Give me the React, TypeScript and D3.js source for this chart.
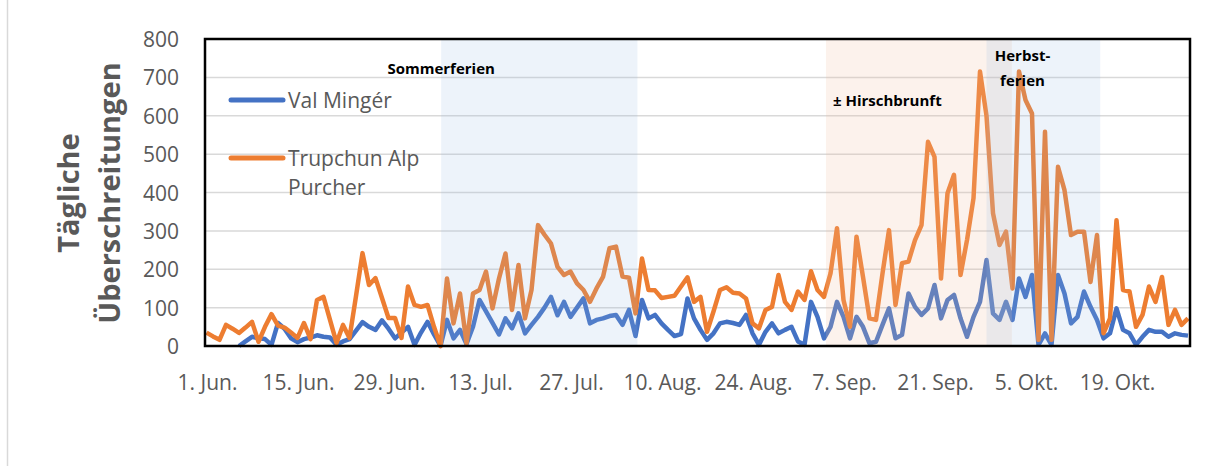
import React, { useEffect, useRef } from 'react';
import * as d3 from 'd3';

// daily counts from 1. Jun. (day 0) to 30. Okt. (day 151)
const startDate = new Date(Date.UTC(2019, 5, 1));

const valMinger: (number | null)[] = [
  null, null, null, null, null, 0, 12, 24, 20, 18,
  3, 60, 45, 20, 10, 18, 22, 28, 24, 22,
  3, 12, 18, 40, 62, 50, 42, 67, 45, 20,
  35, 50, 3, 35, 63, 30, 0, 68, 20, 42,
  5, 50, 120, 90, 60, 30, 72, 46, 85, 33,
  55, 76, 100, 128, 80, 115, 76, 100, 124, 59,
  68, 72, 78, 81, 55, 94, 26, 120, 72, 81,
  59, 42, 26, 31, 124, 72, 42, 16, 33, 59,
  63, 60, 55, 81, 33, 3, 37, 59, 33, 42,
  50, 12, 3, 115, 76, 20, 50, 115, 76, 20,
  76, 50, 7, 11, 55, 98, 20, 29, 137, 102,
  81, 98, 159, 72, 120, 133, 72, 24, 76, 115,
  224, 85, 68, 115, 68, 176, 128, 185, 3, 33,
  3, 185, 137, 59, 76, 142, 102, 68, 20, 33,
  98, 42, 33, 3, 24, 42, 37, 37, 24, 33,
  29, 27,
];

const trupchun: number[] = [
  35, 25, 16, 55, 45, 34, 48, 63, 11, 50,
  83, 53, 48, 35, 21, 60, 18, 120, 128, 68,
  8, 55, 21, 130, 242, 159, 177, 125, 73, 73,
  21, 155, 107, 102, 107, 50, 0, 176, 59, 137,
  7, 137, 146, 194, 98, 176, 241, 94, 211, 72,
  146, 315, 290, 267, 206, 185, 194, 163, 146, 115,
  150, 180, 255, 259, 181, 178, 85, 228, 146, 145,
  125, 128, 131, 155, 179, 115, 128, 37, 90, 146,
  153, 139, 137, 124, 59, 46, 94, 102, 185, 115,
  94, 142, 120, 195, 146, 128, 189, 307, 120, 50,
  285, 180, 72, 68, 189, 302, 107, 216, 220, 276,
  315, 532, 493, 176, 398, 446, 185, 276, 385, 715,
  600, 346, 263, 298, 150, 715, 641, 606, 16, 558,
  16, 467, 406, 289, 298, 298, 167, 289, 33, 72,
  328, 146, 142, 50, 81, 155, 115, 180, 55, 94,
  55, 72,
];

const seriesNames = ['Val Mingér', 'Trupchun Alp Purcher'];
const seriesColors = ['#4472C4', '#ED7D31'];

const xTickLabels = [
  '1. Jun.', '15. Jun.', '29. Jun.', '13. Jul.', '27. Jul.', '10. Aug.',
  '24. Aug.', '7. Sep.', '21. Sep.', '5. Okt.', '19. Okt.',
];

// shaded periods, in days after 1. Jun.
const bandNames = ['Sommerferien', '± Hirschbrunft', 'Herbst-ferien'];
const bandFrom = [36.1, 95.3, 120.0];
const bandTo = [66.3, 123.9, 137.5];
const bandColors = ['rgba(150,185,225,0.17)', 'rgba(240,190,160,0.2)', 'rgba(150,185,225,0.17)'];

const W = 1212;
const H = 466;
const FONT = '"Open Sans", "Noto Sans", sans-serif';

const dayDate = (d: number) => new Date(startDate.getTime() + d * 86400000);

const App = () => {
  const svgRef = useRef<SVGSVGElement>(null);

  useEffect(() => {
    const svg = d3.select(svgRef.current);
    svg.selectAll('*').remove();

    const left = 205;
    const right = 1190;
    const top = 39;
    const bottom = 346;

    const x = d3.scaleUtc()
      .domain([startDate, dayDate(151)])
      .range([206.5, 206.5 + 6.5 * 151]);
    const y = d3.scaleLinear().domain([0, 800]).range([bottom, top]);

    // outer chart frame (left edge visible)
    svg.append('line')
      .attr('x1', 7.5).attr('x2', 7.5).attr('y1', 0).attr('y2', H)
      .attr('stroke', '#d9d9d9').attr('stroke-width', 1.5);

    // gridlines
    svg.append('g')
      .selectAll('line')
      .data(y.ticks(8))
      .join('line')
      .attr('x1', left).attr('x2', right)
      .attr('y1', (d) => y(d)).attr('y2', (d) => y(d))
      .attr('stroke', '#d9d9d9').attr('stroke-width', 1.5);

    // series
    const line = d3.line<number | null>()
      .defined((d) => d != null)
      .x((_, i) => x(dayDate(i)))
      .y((d) => y(d as number));

    [valMinger, trupchun].forEach((vals, i) => {
      svg.append('path')
        .datum(vals)
        .attr('d', line)
        .attr('fill', 'none')
        .attr('stroke', seriesColors[i])
        .attr('stroke-width', 4.5)
        .attr('stroke-linejoin', 'round');
    });

    // shaded periods drawn over the lines
    bandNames.forEach((_, i) => {
      svg.append('rect')
        .attr('x', x(dayDate(bandFrom[i])))
        .attr('y', top)
        .attr('width', x(dayDate(bandTo[i])) - x(dayDate(bandFrom[i])))
        .attr('height', bottom - top)
        .attr('fill', bandColors[i]);
    });

    // period labels
    const bandLabel = svg.append('g')
      .attr('font-family', FONT)
      .attr('font-weight', 'bold')
      .attr('font-size', 15)
      .attr('fill', '#000');
    bandLabel.append('text')
      .attr('x', x(dayDate(bandFrom[0])))
      .attr('y', 68)
      .attr('text-anchor', 'middle')
      .attr('dominant-baseline', 'central')
      .text(bandNames[0]);
    bandLabel.append('text')
      .attr('x', x(dayDate(bandFrom[1])) + 7)
      .attr('y', 100)
      .attr('dominant-baseline', 'central')
      .text(bandNames[1]);
    bandNames[2].split('-').forEach((part, j, arr) => {
      bandLabel.append('text')
        .attr('x', x(dayDate(bandFrom[2])) + 36)
        .attr('y', 55 + j * 25)
        .attr('text-anchor', 'middle')
        .attr('dominant-baseline', 'central')
        .text(j < arr.length - 1 ? part + '-' : part);
    });

    // plot frame
    svg.append('rect')
      .attr('x', left).attr('y', top)
      .attr('width', right - left).attr('height', bottom - top)
      .attr('fill', 'none')
      .attr('stroke', '#000').attr('stroke-width', 2.5);

    // y tick labels
    svg.append('g')
      .selectAll('text')
      .data(y.ticks(8))
      .join('text')
      .attr('x', 179)
      .attr('y', (d) => y(d))
      .attr('text-anchor', 'end')
      .attr('dominant-baseline', 'central')
      .attr('font-family', FONT)
      .attr('font-size', 21)
      .attr('fill', '#595959')
      .text((d) => d);

    // x tick labels, every 14 days
    svg.append('g')
      .selectAll('text')
      .data(xTickLabels)
      .join('text')
      .attr('x', (_, i) => x(dayDate(i * 14)) + 1)
      .attr('y', 382)
      .attr('text-anchor', 'middle')
      .attr('dominant-baseline', 'central')
      .attr('font-family', FONT)
      .attr('font-size', 21)
      .attr('fill', '#595959')
      .text((d) => d);

    // y axis title
    ['Tägliche', 'Überschreitungen'].forEach((t, j) => {
      svg.append('text')
        .attr('transform', `translate(${67 + j * 41},193) rotate(-90)`)
        .attr('text-anchor', 'middle')
        .attr('dominant-baseline', 'central')
        .attr('font-family', FONT)
        .attr('font-weight', 'bold')
        .attr('font-size', 29)
        .attr('fill', '#595959')
        .text(t);
    });

    // legend
    const legend = svg.append('g')
      .attr('font-family', FONT)
      .attr('font-size', 21)
      .attr('fill', '#595959');
    const legendRows = [[seriesNames[0]], ['Trupchun Alp', 'Purcher']];
    const legendY = [100, 158];
    legendRows.forEach((rows, i) => {
      legend.append('line')
        .attr('x1', 231).attr('x2', 283)
        .attr('y1', legendY[i]).attr('y2', legendY[i])
        .attr('stroke', seriesColors[i])
        .attr('stroke-width', 5)
        .attr('stroke-linecap', 'round');
      rows.forEach((r, j) => {
        legend.append('text')
          .attr('x', 288)
          .attr('y', legendY[i] + j * 29)
          .attr('dominant-baseline', 'central')
          .text(r);
      });
    });
  }, []);

  return (
    <svg
      ref={svgRef}
      width={W}
      height={H}
      style={{ position: 'absolute', left: 0, top: 0, background: '#fff' }}
    />
  );
};

export default App;
